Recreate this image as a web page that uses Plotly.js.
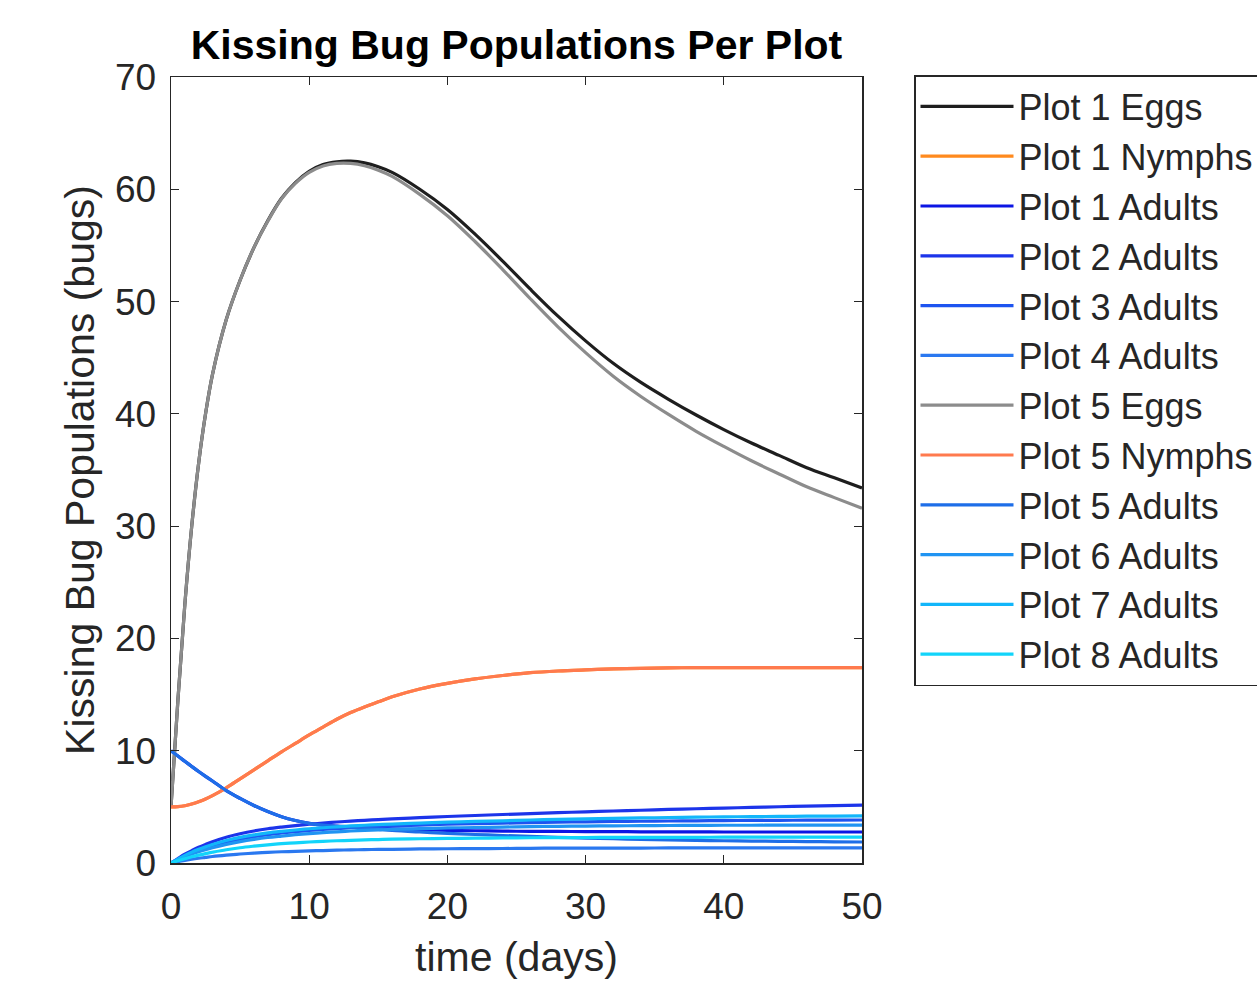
<!DOCTYPE html>
<html>
<head>
<meta charset="utf-8">
<script src="https://cdn.plot.ly/plotly-3.0.1.min.js"></script>
<style>html,body{margin:0;padding:0;background:#fff;overflow:hidden}#chart{width:1257px;height:992px}</style>
</head>
<body>
<div id="chart"></div>
<script>
// time (days)
const t = [0, 0.5, 1, 1.5, 2, 2.5, 3, 4, 5, 6, 7, 8, 9, 10, 11, 12, 13, 14, 15, 16, 18, 20, 22, 24, 26, 28, 30, 32, 34, 36, 38, 40, 42, 44, 46, 48, 50];

const plot1Eggs   = [5, 14.5, 23, 30, 35.6, 40.0, 43.5, 48.4, 51.9, 54.8, 57.2, 59.2, 60.6, 61.6, 62.2, 62.45, 62.5, 62.35, 62.0, 61.5, 60.0, 58.2, 56.0, 53.6, 51.1, 48.7, 46.5, 44.5, 42.8, 41.3, 39.9, 38.6, 37.4, 36.3, 35.2, 34.3, 33.4];
const plot5Eggs   = [5, 14.5, 23, 30, 35.6, 40.0, 43.5, 48.4, 51.9, 54.8, 57.15, 59.15, 60.52, 61.5, 62.07, 62.3, 62.3, 62.1, 61.7, 61.15, 59.55, 57.65, 55.35, 52.85, 50.25, 47.75, 45.45, 43.35, 41.55, 39.95, 38.45, 37.1, 35.82, 34.65, 33.5, 32.54, 31.6];
const plot1Nymphs = [5, 5.02, 5.1, 5.25, 5.45, 5.7, 6.0, 6.7, 7.5, 8.3, 9.1, 9.9, 10.65, 11.4, 12.1, 12.8, 13.4, 13.9, 14.35, 14.8, 15.5, 16.0, 16.4, 16.7, 16.95, 17.1, 17.2, 17.28, 17.33, 17.37, 17.4, 17.4, 17.4, 17.4, 17.4, 17.4, 17.4];
const plot5Nymphs = [5, 5.02, 5.1, 5.25, 5.45, 5.7, 6.0, 6.7, 7.5, 8.3, 9.1, 9.9, 10.65, 11.4, 12.1, 12.8, 13.4, 13.9, 14.35, 14.8, 15.5, 16.0, 16.4, 16.7, 16.95, 17.1, 17.2, 17.28, 17.33, 17.37, 17.4, 17.4, 17.4, 17.4, 17.4, 17.4, 17.4];
const plot1Adults = [10, 9.52, 9.06, 8.6, 8.15, 7.72, 7.3, 6.45, 5.75, 5.12, 4.58, 4.12, 3.78, 3.53, 3.37, 3.28, 3.22, 3.16, 3.1, 3.05, 2.97, 2.91, 2.87, 2.84, 2.82, 2.81, 2.8, 2.79, 2.78, 2.77, 2.77, 2.76, 2.76, 2.76, 2.76, 2.76, 2.76];
const plot2Adults = [0, 0.4, 0.78, 1.1, 1.4, 1.66, 1.9, 2.3, 2.6, 2.85, 3.05, 3.2, 3.33, 3.45, 3.55, 3.65, 3.73, 3.8, 3.87, 3.93, 4.04, 4.14, 4.23, 4.32, 4.4, 4.48, 4.56, 4.63, 4.7, 4.77, 4.83, 4.89, 4.95, 5.01, 5.06, 5.11, 5.16];
const plot3Adults = [0, 0.32, 0.62, 0.9, 1.13, 1.34, 1.53, 1.86, 2.13, 2.35, 2.53, 2.67, 2.79, 2.9, 2.99, 3.07, 3.14, 3.2, 3.25, 3.3, 3.38, 3.45, 3.5, 3.55, 3.6, 3.64, 3.67, 3.7, 3.72, 3.74, 3.76, 3.78, 3.79, 3.8, 3.81, 3.82, 3.83];
const plot4Adults = [0, 0.12, 0.23, 0.33, 0.42, 0.5, 0.58, 0.7, 0.8, 0.88, 0.95, 1.0, 1.04, 1.08, 1.11, 1.14, 1.17, 1.19, 1.21, 1.22, 1.25, 1.27, 1.28, 1.29, 1.31, 1.32, 1.32, 1.33, 1.33, 1.34, 1.34, 1.34, 1.34, 1.34, 1.34, 1.34, 1.34];
const plot5Adults = [10, 9.52, 9.06, 8.6, 8.15, 7.72, 7.3, 6.45, 5.75, 5.12, 4.58, 4.12, 3.78, 3.53, 3.37, 3.27, 3.2, 3.1, 3.0, 2.9, 2.76, 2.64, 2.54, 2.45, 2.37, 2.29, 2.22, 2.16, 2.1, 2.05, 2.01, 1.98, 1.95, 1.93, 1.91, 1.89, 1.87];
const plot6Adults = [0, 0.28, 0.55, 0.8, 1.0, 1.19, 1.36, 1.66, 1.9, 2.1, 2.27, 2.4, 2.52, 2.62, 2.7, 2.78, 2.85, 2.9, 2.95, 2.99, 3.06, 3.12, 3.16, 3.2, 3.24, 3.27, 3.29, 3.31, 3.32, 3.34, 3.35, 3.36, 3.36, 3.37, 3.37, 3.38, 3.38];
const plot7Adults = [0, 0.35, 0.68, 0.97, 1.22, 1.45, 1.65, 2.0, 2.28, 2.5, 2.68, 2.82, 2.94, 3.05, 3.14, 3.22, 3.3, 3.36, 3.42, 3.47, 3.56, 3.64, 3.7, 3.76, 3.83, 3.88, 3.93, 3.97, 4.01, 4.05, 4.08, 4.11, 4.13, 4.15, 4.17, 4.18, 4.19];
const plot8Adults = [0, 0.2, 0.38, 0.55, 0.7, 0.84, 0.96, 1.18, 1.36, 1.5, 1.62, 1.72, 1.8, 1.87, 1.93, 1.98, 2.02, 2.06, 2.09, 2.12, 2.16, 2.19, 2.21, 2.23, 2.25, 2.26, 2.27, 2.28, 2.28, 2.29, 2.29, 2.3, 2.3, 2.3, 2.3, 2.3, 2.3];

const seriesNames = ['Plot 1 Eggs','Plot 1 Nymphs','Plot 1 Adults','Plot 2 Adults','Plot 3 Adults','Plot 4 Adults','Plot 5 Eggs','Plot 5 Nymphs','Plot 5 Adults','Plot 6 Adults','Plot 7 Adults','Plot 8 Adults'];
const seriesData = [plot1Eggs, plot1Nymphs, plot1Adults, plot2Adults, plot3Adults, plot4Adults, plot5Eggs, plot5Nymphs, plot5Adults, plot6Adults, plot7Adults, plot8Adults];
const seriesColors = ['#1e1e1e','#ff8a1e','#0c16e4','#1c34ea','#1e54f0','#2a78f0','#8c8c8c','#ff7a4e','#1e6ee8','#2094f2','#12b6fa','#12d4fa'];

const xTicks = [0, 10, 20, 30, 40, 50];
const yTicks = [0, 10, 20, 30, 40, 50, 60, 70];

const traces = seriesNames.map((n, i) => ({
  type: 'scatter', mode: 'lines', name: n, x: t, y: seriesData[i],
  line: {color: seriesColors[i], width: 3.2, shape: 'spline', smoothing: 1}
}));

const FAM = 'Liberation Sans, Arial, sans-serif';
const axisFont = {family: FAM, size: 37, color: '#262626'};
const layout = {
  width: 1257, height: 992,
  paper_bgcolor: '#fff', plot_bgcolor: '#fff',
  margin: {l: 171, r: 395, t: 77, b: 129, autoexpand: false},
  title: {text: '<b>Kissing Bug Populations Per Plot</b>', x: 0.5, xref: 'paper', y: 1 - 45/992, yref: 'container', yanchor: 'middle',
          font: {family: FAM, size: 41, color: '#000'}},
  xaxis: {range: [0, 50], tickvals: xTicks, ticktext: xTicks.map(String), ticks: 'inside', ticklen: 8, tickcolor: '#262626',
          showline: true, linecolor: '#262626', linewidth: 1.5, mirror: 'ticks', showgrid: false, zeroline: false,
          tickfont: axisFont, ticklabelstandoff: 10,
          title: {text: 'time (days)', standoff: 16, font: {family: FAM, size: 41, color: '#262626'}}},
  yaxis: {range: [0, 70], tickvals: yTicks, ticktext: yTicks.map(String), ticks: 'inside', ticklen: 8, tickcolor: '#262626',
          showline: true, linecolor: '#262626', linewidth: 1.5, mirror: 'ticks', showgrid: false, zeroline: false,
          tickfont: axisFont, ticklabelstandoff: 6,
          title: {text: 'Kissing Bug Populations (bugs)', standoff: 7, font: {family: FAM, size: 41, color: '#262626'}}},
  showlegend: true,
  legend: {x: (914-171)/691, xanchor: 'left', y: (863-75)/786, yanchor: 'top', xref: 'paper', yref: 'paper',
           bgcolor: '#fff', bordercolor: '#262626', borderwidth: 1.5, itemwidth: 93, maxheight: 900,
           font: {family: FAM, size: 36, color: '#262626'}, tracegroupgap: 0}
};

Plotly.newPlot('chart', traces, layout, {staticPlot: true, displayModeBar: false});
</script>
</body>
</html>
